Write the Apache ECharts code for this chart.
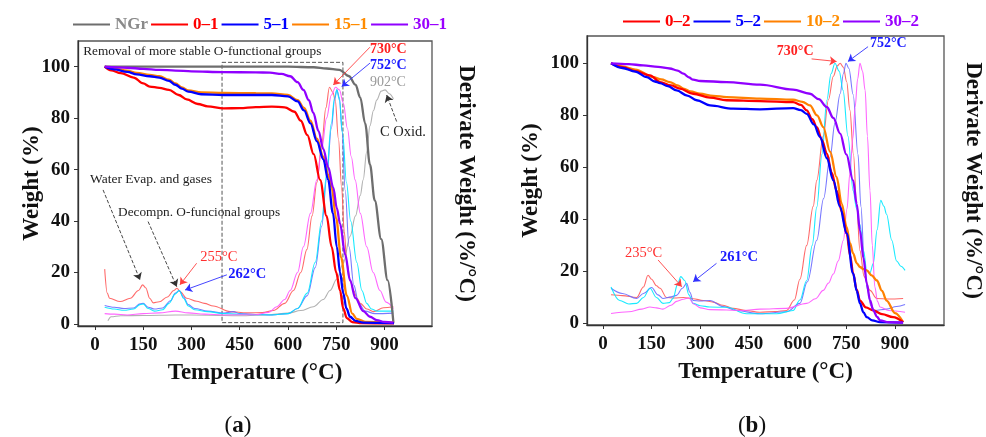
<!DOCTYPE html>
<html><head><meta charset="utf-8">
<script src="https://cdn.jsdelivr.net/npm/echarts@6/dist/echarts.min.js"></script>
<style>html,body{margin:0;padding:0;background:#fff}#c{width:986px;height:437px}</style>
</head><body><div id="c"></div>
<script>
const FONT = 'Liberation Serif';
const xTicks = [0,150,300,450,600,750,900];
const yTicks = [0,20,40,60,80,100];

// ---------- Panel (a): TGA (weight %) ----------
const a_NGr = [[30,100],[200,100],[400,100],[600,100],[680,99.8],[720,99.3],[760,98.8],[790,96.3],[810,93],[825,88],[840,78],[855,62],[870,48],[890,33],[910,17],[928,0.5]];
const a_01 = [[30,100],[50,98.6],[80,97.5],[120,95.8],[150,93.5],[170,92.3],[200,91.8],[230,91],[260,89],[285,87.3],[320,85.5],[350,84.6],[400,83.8],[450,83.9],[500,84.3],[550,84.5],[590,84.2],[620,82.5],[640,79],[660,73.5],[680,66],[700,56],[720,42],[736,30],[750,20],[762,13],[772,6],[783,2.3],[800,0.7],[830,0.3],[930,0.2]];
const a_51 = [[30,100],[60,99],[100,98],[130,97],[170,96.3],[200,95.8],[230,94.5],[250,93],[270,91.5],[290,90.3],[330,89.3],[400,89],[500,89],[550,89],[600,88.5],[630,86.5],[650,83],[670,78],[690,71],[710,64],[725,56],[740,43],[752,30],[762,20],[772,12],[782,6],[793,2.8],[810,1.2],[834,0.5],[930,0.3]];
const a_151 = [[30,100],[60,99.3],[100,98.5],[130,97.6],[170,96.8],[200,96.3],[230,95],[250,93.5],[270,92],[290,90.8],[330,90],[400,89.8],[500,89.7],[550,89.6],[600,89],[630,87],[650,84],[670,79],[690,72],[710,65],[725,58],[736,53],[750,41],[765,26],[783,11],[800,4],[814,2],[840,0.8],[930,0.4]];
const a_301 = [[30,100],[100,99.6],[150,99.2],[200,98.8],[250,98.5],[300,98.2],[400,97.9],[500,97.8],[544,97.7],[580,97.2],[607,96.3],[630,94],[648,91],[665,87],[679,82],[695,75],[710,68],[725,61],[741,53],[752,45],[762,39],[778,27],[793,17],[810,10],[834,5],[855,2.8],[876,1.5],[900,0.8],[928,0.5]];
// ---------- Panel (a): DTG ----------
const a_NGr_d = [[40,1.2],[50,2.8],[80,3.2],[150,3.3],[250,3.5],[350,3.4],[450,3.2],[544,3.6],[600,4.2],[640,5.2],[679,6.7],[710,9.5],[731,13],[752,17.5],[772,23.6],[793,34],[810,42],[825,50],[834,56],[845,67],[855,77],[866,83],[876,87],[890,90.5],[902,91],[915,89.5],[928,87.5]];
const a_01_d = [[30,21.3],[38,12],[45,10],[78,8.7],[110,10],[135,13],[148,15.2],[158,14],[170,10],[181,8.2],[200,8.6],[225,10.5],[245,13],[255,13.9],[265,12.5],[285,10],[316,8.8],[340,8],[368,7],[420,4.8],[472,4.3],[520,4.4],[555,5.2],[590,8],[617,13],[640,20],[659,29],[675,42],[690,55],[705,70],[718,84],[729,92],[740,90],[747,87],[757,72],[767,53],[775,36],[783,24],[795,16],[804,13],[815,10],[825,8],[845,5.8],[866,4.8],[897,6.3],[928,6.7]];
const a_51_d = [[30,7.2],[60,6.5],[90,6],[120,6.2],[140,7.8],[150,8],[165,6.5],[185,5.8],[210,6.2],[235,9],[250,12],[262,13],[275,10.5],[290,7.5],[310,6],[350,5],[400,4.2],[430,4.8],[450,4],[500,3.7],[550,3.5],[600,4],[630,6],[660,11],[685,22],[705,38],[720,56],[735,76],[745,87],[752,91],[760,88],[768,75],[778,52],[790,30],[805,15],[820,8],[840,5],[870,4],[928,4.2]];
const a_151_d = [[30,6.5],[60,5.8],[90,5.3],[120,5.8],[140,7.5],[150,7.8],[165,6],[185,5],[210,5.5],[230,8],[248,11.5],[262,13],[275,10],[290,7],[310,5.5],[350,4.8],[400,4],[450,3.8],[500,3.6],[550,3.5],[600,4],[630,6],[660,12],[685,24],[705,40],[720,58],[735,78],[745,88],[752,91],[760,87],[770,74],[782,55],[795,40],[814,24],[830,13],[845,8],[860,5.8],[876,5],[928,5]];
const a_301_d = [[30,4],[60,3.8],[100,3.5],[150,4],[200,4.3],[250,5],[290,4.3],[340,3.8],[400,3.5],[500,3.6],[540,4.5],[565,6.7],[590,9.5],[607,13],[630,20],[648,30],[670,43],[690,56],[705,68],[720,80],[735,89],[748,92],[760,91],[772,86],[785,76],[797,65],[809,56],[825,43],[845,30],[865,20],[886,13],[905,8.5],[928,6]];

// ---------- Panel (b): TGA ----------
const b_02 = [[25,100],[60,98.5],[100,97],[145,95.4],[176,92.8],[210,91.5],[237,90.3],[278,88.3],[330,86.8],[381,85.8],[484,85.5],[586,85.1],[610,84],[628,81.9],[645,78.5],[659,75.5],[675,70.5],[690,65.3],[705,58],[720,51],[736,43],[751,34.6],[762,26],[771,19.2],[782,13],[792,8.8],[810,6.2],[833,5],[860,3.6],[894,2.4],[925,0.5]];
const b_52 = [[25,100],[60,98.2],[100,96.8],[135,94.7],[160,93],[176,92.4],[200,91.2],[227,89.6],[260,87.6],[289,85.8],[330,83.8],[401,82.6],[484,82.3],[586,82.8],[610,82],[628,80.6],[650,76.5],[669,71.7],[690,63.5],[710,55],[730,45],[751,34.6],[771,19.2],[782,12.5],[792,7.7],[803,4.2],[813,2.4],[830,1.2],[854,0.5],[925,0.3]];
const b_102 = [[25,100],[60,98.8],[100,97.6],[155,94.7],[180,93.8],[206,92.8],[230,91.5],[248,90.3],[270,89.2],[299,88.3],[340,87.5],[381,87],[484,86.4],[586,86],[615,85.2],[638,83.8],[660,80],[679,75.5],[700,66],[720,56.3],[736,46],[751,37],[761,31],[771,26.9],[782,23.2],[792,21.7],[803,20.9],[813,20.4],[828,18.5],[844,16.5],[860,12.5],[874,8.8],[900,4],[925,0.5]];
const b_302 = [[25,100],[80,99.7],[124,99.2],[170,98.6],[206,98],[230,97.2],[248,96],[265,94.6],[278,93.7],[300,93.2],[381,92.8],[484,91.8],[586,89.9],[638,88.3],[665,86.2],[690,83.2],[710,79],[731,73],[750,65],[771,55],[782,46],[792,35.8],[803,25],[813,15.3],[823,9],[833,5],[845,2.5],[854,1.2],[880,0.5],[925,0.3]];
// ---------- Panel (b): DTG ----------
const b_02_d = [[25,11],[60,10.7],[104,10],[125,14],[139,18.5],[150,17],[165,14.5],[176,13.5],[196,10],[220,9.8],[248,10],[278,9.5],[309,8.8],[340,8.2],[370,7],[401,5.8],[440,5],[484,4.3],[530,4.6],[566,5],[590,9],[607,17],[628,30],[648,45],[659,55],[679,72],[695,86],[710,95],[722,99],[731,100],[741,98.5],[751,93],[761,82],[772,65],[782,45],[792,28],[805,18],[823,12.7],[844,9.6],[880,9.4],[925,9.6]];
const b_52_d = [[25,13.5],[60,11.5],[104,9.6],[125,11.5],[150,13.8],[170,11],[185,9.6],[210,10.2],[227,10.8],[245,13.5],[258,15.4],[268,12],[278,8.8],[300,8.6],[330,8.8],[370,6.5],[412,5],[484,3.7],[566,4.5],[607,7.7],[630,16],[659,32],[680,48],[700,64],[715,77],[731,88.3],[741,96],[749,100],[758,98],[771,88],[786,65],[795,45],[805,25],[815,13],[825,7],[838,5],[874,5.5],[905,6.5],[931,7.3]];
const b_102_d = [[25,14],[52,8.8],[80,7.5],[104,7.7],[125,10],[145,13.5],[165,10],[185,7.7],[205,8],[216,9.6],[230,15],[240,18],[252,16.5],[265,11],[278,7.7],[300,6.8],[330,6.3],[381,6.2],[443,3.7],[535,3.7],[586,5],[607,9],[628,16.5],[645,30],[659,44.7],[675,65],[690,85.8],[703,96],[715,100],[728,97],[740,89.6],[755,72],[771,51],[782,44],[792,38],[803,28],[813,20.4],[823,19.5],[833,23],[845,36],[856,47.3],[866,45],[874,42],[890,32],[905,24],[918,22],[931,20.4]];
const b_302_d = [[25,3.8],[80,4.5],[120,5.5],[145,6.3],[165,6],[185,5.5],[210,7],[227,8.5],[248,9.3],[265,9.8],[280,7.5],[300,6],[330,5.3],[432,5],[484,5.5],[566,5.8],[628,7.7],[655,9.5],[679,12.7],[695,15.5],[710,19],[725,24],[741,32],[752,44],[761,57.6],[770,71],[777,83],[785,94],[792,100],[800,97],[808,89.6],[815,72],[823,51],[830,30],[838,14],[846,8.5],[854,6.3],[880,5],[931,4.3]];

const C = {grey:'#6e6e6e', red:'#ff0000', blue:'#0000ff', orange:'#ff8000', purple:'#9000ff',
  lgrey:'#a8a8a8', lred:'#ff5a5a', lblue:'#6a6aff', cyan:'#00e8ff', mag:'#ff55ff'};

function tga(name, data, color, xi, yi){
  return {type:'line', name, data, xAxisIndex:xi, yAxisIndex:yi, symbol:'none', showSymbol:false,
    smooth:0.35, smoothMonotone:'x', lineStyle:{color, width:2.3}, itemStyle:{color}, z:4};
}
function dtg(name, data, color, xi, yi){
  return {type:'line', name, data, xAxisIndex:xi, yAxisIndex:yi, symbol:'none', showSymbol:false,
    smooth:0.35, smoothMonotone:'x', lineStyle:{color, width:1.1, opacity:0.9}, itemStyle:{color}, z:2};
}
function txt(coord, text, color, bold, size){
  return {coord, symbol:'circle', symbolSize:0, itemStyle:{color:'rgba(0,0,0,0)'},
    label:{show:true, position:'right', distance:0, formatter:text, color, fontFamily:FONT,
      fontWeight: bold?'bold':'normal', fontSize:size}};
}
function arr(from, to, color, dashed){
  return [{coord:from, lineStyle:{color, width:0.9, type: dashed?'dashed':'solid'}}, {coord:to}];
}
function xAx(gi, min, max){
  return {gridIndex:gi, type:'value', min, max,
    axisLine:{show:true, onZero:false, lineStyle:{color:'#333', width:1.3}},
    axisTick:{show:true, customValues:xTicks, length:4, lineStyle:{color:'#333'}},
    axisLabel:{customValues:xTicks, margin:10, color:'#111', fontFamily:FONT, fontWeight:'bold', fontSize:19},
    splitLine:{show:false},
    name:'Temperature (°C)', nameLocation:'middle', nameGap:36, nameMoveOverlap:false,
    nameTextStyle:{color:'#111', fontFamily:FONT, fontWeight:'bold', fontSize:23}};
}
function yAx(gi, min, max, gap){
  return {gridIndex:gi, type:'value', min, max, position:'left',
    axisLine:{show:true, onZero:false, lineStyle:{color:'#333', width:1.3}},
    axisTick:{show:true, customValues:yTicks, length:4, lineStyle:{color:'#333'}},
    axisLabel:{customValues:yTicks, margin:8, color:'#111', fontFamily:FONT, fontWeight:'bold', fontSize:19},
    splitLine:{show:false},
    name:'Weight (%)', nameLocation:'middle', nameGap:gap, nameRotate:90, nameMoveOverlap:false,
    nameTextStyle:{color:'#111', fontFamily:FONT, fontWeight:'bold', fontSize:23}};
}
function yAxR(gi, min, max, gap){
  return {gridIndex:gi, type:'value', min, max, position:'right',
    axisLine:{show:false, onZero:false}, axisTick:{show:false}, axisLabel:{show:false}, splitLine:{show:false},
    name:'Derivate Weight (%/°C)', nameLocation:'middle', nameGap:gap, nameRotate:-90, nameMoveOverlap:false,
    nameTextStyle:{color:'#111', fontFamily:FONT, fontWeight:'bold', fontSize:23}};
}
function legendItem(name, color){ return {name, textStyle:{color}}; }

const legendA = [legendItem('NGr','#8a8a8a'), legendItem('0–1',C.red), legendItem('5–1',C.blue), legendItem('15–1','#ff8c00'), legendItem('30–1','#9a00ff')];
const legendB = [legendItem('0–2',C.red), legendItem('5–2',C.blue), legendItem('10–2','#ff8c00'), legendItem('30–2','#9a00ff')];
const legendCommon = {icon:'rect', itemWidth:37, itemHeight:2, itemGap:3,
  textStyle:{fontFamily:FONT, fontWeight:'bold', fontSize:17}};

const gridStyle = {show:true, borderColor:'#555', borderWidth:1.3, backgroundColor:'rgba(0,0,0,0)'};

const option = {
  animation:false,
  backgroundColor:'#fff',
  grid:[
    Object.assign({left:78, top:41, width:354, height:285}, gridStyle),
    Object.assign({left:587, top:36, width:357, height:289}, gridStyle)
  ],
  legend:[
    Object.assign({left:68, top:11, data:legendA}, legendCommon),
    Object.assign({left:618, top:8, data:legendB}, legendCommon)
  ],
  xAxis:[xAx(0,-53,1048), xAx(1,-49,1051)],
  yAxis:[yAx(0,-0.8,110,34), yAxR(0,-0.8,110,22), yAx(1,-0.6,110.5,44), yAxR(1,-0.6,110.5,17)],
  graphic:[
    {type:'text', x:238, y:426, style:{text:'{p|(}{b|a}{p|)}', align:'center', verticalAlign:'middle',
      rich:{p:{fontFamily:FONT, fontSize:23, fill:'#111'}, b:{fontFamily:FONT, fontSize:23, fontWeight:'bold', fill:'#111'}}}},
    {type:'text', x:752, y:426, style:{text:'{p|(}{b|b}{p|)}', align:'center', verticalAlign:'middle',
      rich:{p:{fontFamily:FONT, fontSize:23, fill:'#111'}, b:{fontFamily:FONT, fontSize:23, fontWeight:'bold', fill:'#111'}}}}
  ],
  series:[
    dtg('NGr DTG', a_NGr_d, C.lgrey, 0, 0),
    dtg('0–1 DTG', a_01_d, C.lred, 0, 0),
    dtg('5–1 DTG', a_51_d, C.lblue, 0, 0),
    dtg('15–1 DTG', a_151_d, C.cyan, 0, 0),
    dtg('30–1 DTG', a_301_d, C.mag, 0, 0),
    tga('NGr', a_NGr, C.grey, 0, 0),
    tga('0–1', a_01, C.red, 0, 0),
    tga('15–1', a_151, C.orange, 0, 0),
    tga('5–1', a_51, C.blue, 0, 0),
    tga('30–1', a_301, C.purple, 0, 0),
    dtg('0–2 DTG', b_02_d, C.lred, 1, 2),
    dtg('5–2 DTG', b_52_d, C.lblue, 1, 2),
    dtg('10–2 DTG', b_102_d, C.cyan, 1, 2),
    dtg('30–2 DTG', b_302_d, C.mag, 1, 2),
    tga('10–2', b_102, C.orange, 1, 2),
    tga('0–2', b_02, C.red, 1, 2),
    tga('5–2', b_52, C.blue, 1, 2),
    tga('30–2', b_302, C.purple, 1, 2),
    {type:'line', name:'annA', xAxisIndex:0, yAxisIndex:0, data:[], z:6,
      markArea:{silent:true, data:[[{coord:[395,101.7], itemStyle:{color:'rgba(0,0,0,0)', borderColor:'#555', borderWidth:1, borderType:'dashed'}},{coord:[771,0.5]}]]},
      markLine:{silent:true, symbol:['none','arrow'], symbolSize:7, label:{show:false},
        data:[
          arr([855,107.6],[741,92.9],'#ff4040',false),
          arr([855,101.4],[767,92.3],'#3030ff',false),
          arr([938,78.7],[907,89],'#333',true),
          arr([25,52.1],[140,17.1],'#333',true),
          arr([165,39.8],[254,14.5],'#333',true),
          arr([316,23.6],[264,15.2],'#ff4040',false),
          arr([410,19.1],[280,13.2],'#3030ff',false)
        ]},
      markPoint:{silent:true, data:[
        txt([-37,105.8],'Removal of more stable O-functional groups','#222',false,13.3),
        txt([855,106.9],'730°C','#ff2020',true,14),
        txt([855,100.7],'752°C','#1a1aff',true,14),
        txt([855,94.1],'902°C','#999',false,14),
        txt([886,74.6],'C Oxid.','#222',false,14.5),
        txt([-15.6,56],'Water Evap. and gases','#222',false,13.5),
        txt([71.5,43.5],'Decompn. O-funcional groups','#222',false,13.3),
        txt([327,26],'255°C','#ff3030',false,14.5),
        txt([414,19.4],'262°C','#1a1aff',true,14.5)
      ]}},
    {type:'line', name:'annB', xAxisIndex:1, yAxisIndex:2, data:[], z:6,
      markLine:{silent:true, symbol:['none','arrow'], symbolSize:7, label:{show:false},
        data:[
          arr([643,101.7],[720,100.7],'#ff4040',false),
          arr([817,106.4],[755,100.7],'#3030ff',false),
          arr([170,24.4],[243,14.1],'#ff4040',false),
          arr([350,23.1],[278,16],'#3030ff',false)
        ]},
      markPoint:{silent:true, data:[
        txt([536,104.4],'730°C','#ff2020',true,14),
        txt([823,107.5],'752°C','#1a1aff',true,14),
        txt([68,27.1],'235°C','#ff3030',false,14.5),
        txt([361,25.5],'261°C','#1a1aff',true,14.5)
      ]}}
  ]
};
const chart = echarts.init(document.getElementById('c'), null, {renderer:'canvas'});
chart.setOption(option);
</script></body></html>
